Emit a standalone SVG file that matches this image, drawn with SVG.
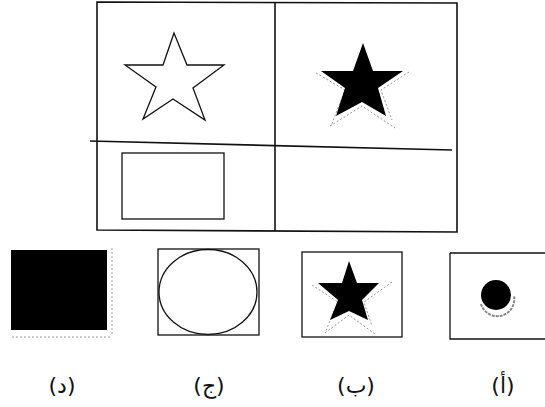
<svg xmlns="http://www.w3.org/2000/svg" width="545" height="407" viewBox="0 0 545 407">
<style>
.ln{stroke:#111;stroke-width:1.6;fill:none}
.thin{stroke:#111;stroke-width:1.3;fill:none}
.shadow{stroke:#999;stroke-width:1;fill:none;stroke-dasharray:2 2}
.lbl{font-family:"DejaVu Sans",sans-serif;font-size:22px;fill:#111;text-anchor:middle}
</style>
<rect width="545" height="407" fill="#fff"/>
<g id="grid">
<path class="ln" d="M97,2 L457,3 L457,232 L97,230 Z"/>
<path class="ln" d="M275,3 L275,231"/>
<path class="ln" d="M90,141 L452,150"/>
</g>
<g id="cell-outline-star">
<polygon class="thin" points="174,33 163,65 125,65 156,87 143,119 173,99 205,120 193,88 224,65 187,65"/>
</g>
<g id="cell-filled-star">
<polyline class="shadow" points="316,73 345,90 331,126"/>
<polyline class="shadow" points="330,126 362,106 395,128"/>
<polyline class="shadow" points="409,72 381,90 392,120"/>
<polygon fill="#000" points="363,43 353,71 321,71 345,88 336,116 362,102 386,116 378,88 403,71 373,71"/>
</g>
<g id="cell-rectangle">
<rect class="thin" x="122" y="153" width="102" height="66"/>
</g>
<g id="option-d">
<rect x="11" y="250" width="96" height="80" fill="#000"/>
<path class="shadow" d="M112,248 L112,336 M12,337 L112,337"/>
</g>
<g id="option-j">
<rect class="thin" x="158" y="249" width="101" height="86"/>
<ellipse class="thin" cx="208" cy="292" rx="49" ry="42.5"/>
</g>
<g id="option-b">
<rect class="thin" x="302" y="252" width="100" height="85"/>
<polyline class="shadow" points="312,285 338,302 325,333"/>
<polyline class="shadow" points="325,333 349,315 375,334"/>
<polyline class="shadow" points="392,282 364,302 372,326"/>
<polygon fill="#000" points="349,261 342,283 318,283 338,300 330,320 349,311 368,320 362,300 379,283 357,283"/>
</g>
<g id="option-a">
<path class="thin" d="M450,253 L545,253 M450,253 L450,339 L545,339"/>
<path d="M481,304 A17,17 0 0 0 514,296" stroke="#888" stroke-width="2" fill="none" stroke-dasharray="3 1"/>
<circle cx="496" cy="295" r="15" fill="#000"/>
</g>
<g id="labels">
<text class="lbl" x="62" y="393">(د)</text>
<text class="lbl" x="209" y="393">(ج)</text>
<text class="lbl" x="356" y="393">(ب)</text>
<text class="lbl" x="503" y="393">(أ)</text>
</g>
</svg>
